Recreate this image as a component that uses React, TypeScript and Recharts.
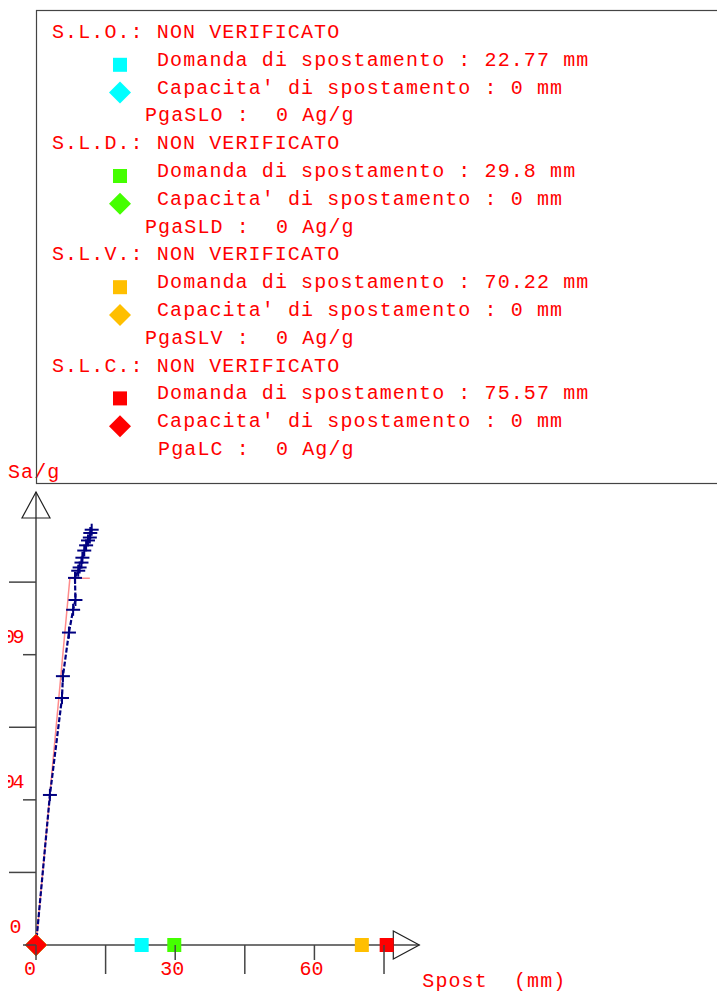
import { ScatterChart, Scatter, XAxis, YAxis, ReferenceDot } from "recharts";

const FONT = '"Liberation Mono", "DejaVu Sans Mono", monospace';
const RED = "#ff0000";
const AXIS = "#444444";
const NAVY = "#000080";

// curva di capacita': spostamento (mm) / Sa/g
const curveX = [0, 3.0, 5.6, 5.8, 7.1, 8.0, 8.5, 8.4, 9.1, 9.4, 9.8, 10.0, 10.4, 10.8, 11.2, 11.6, 11.7, 12.0];
const curveY = [0, 0.0461, 0.0759, 0.0826, 0.096, 0.103, 0.106, 0.1128, 0.115, 0.116, 0.1175, 0.119, 0.1212, 0.1228, 0.1243, 0.1252, 0.1266, 0.1276];

// bilineare equivalente
const bilinX = [0, 7.3, 11.6];
const bilinY = [0, 0.1127, 0.1127];

const stati = ["S.L.O.", "S.L.D.", "S.L.V.", "S.L.C."];
const pgaNomi = ["PgaSLO", "PgaSLD", "PgaSLV", "PgaLC"];
const domanda = [22.77, 29.8, 70.22, 75.57];
const capacita = [0, 0, 0, 0];
const pga = [0, 0, 0, 0];
const colori = ["#00ffff", "#44ff00", "#ffbf00", "#ff0000"];

const xTicks = [0, 15, 30, 45, 60, 75];
const xTickLabels = ["0", "", "30", "", "60", ""];
const yTicks = [0, 0.0223, 0.0446, 0.0669, 0.0892, 0.1115];
const yTickLabels = ["0", "", "0.04", "", "0.09", ""];
const xMax = 77;
const yMax = 0.1312;

const curve = curveX.map((x, i) => ({ x, y: curveY[i] }));
const bilin = bilinX.map((x, i) => ({ x, y: bilinY[i] }));

const txt = { fontFamily: FONT, fontSize: 20, letterSpacing: 1.1, fill: RED, whiteSpace: "pre" as const };
const tickTxt = { fontFamily: FONT, fontSize: 20, fill: RED };

function XTick(p: any) {
  const i = xTicks.indexOf(p.payload.value);
  const long = i % 2 === 1;
  return (
    <g>
      <line x1={p.x} y1={945} x2={p.x} y2={945 + (long ? 29 : 15)} stroke={AXIS} strokeWidth={1.5} />
      {xTickLabels[i] && (
        <text x={p.x - (i === 0 ? 6 : 3)} y={975} textAnchor="middle" style={tickTxt}>
          {xTickLabels[i]}
        </text>
      )}
    </g>
  );
}

function YTick(p: any) {
  const i = yTicks.indexOf(p.payload.value);
  const long = i % 2 === 1;
  return (
    <g>
      <line x1={36} y1={p.y} x2={36 - (long ? 27 : 13)} y2={p.y} stroke={AXIS} strokeWidth={1.5} />
      {yTickLabels[i] && (
        <text x={i === 0 ? 19 : 22} y={p.y - 12} textAnchor="end" style={{ ...tickTxt, letterSpacing: -2.5 }}>
          {yTickLabels[i]}
        </text>
      )}
    </g>
  );
}

const Piu = (p: any) =>
  p.payload && p.payload.x === 0 ? <g /> : (
    <g stroke={NAVY} strokeWidth={2}>
      <line x1={p.cx - 7} y1={p.cy} x2={p.cx + 7} y2={p.cy} />
      <line x1={p.cx} y1={p.cy - 6} x2={p.cx} y2={p.cy + 6} />
    </g>
  );

const quadrato = (c: string) => (p: any) => <rect x={p.cx - 7} y={p.cy - 7} width={14} height={14} fill={c} />;
const rombo = (c: string) => (p: any) => (
  <polygon points={`${p.cx - 11},${p.cy} ${p.cx},${p.cy - 11} ${p.cx + 11},${p.cy} ${p.cx},${p.cy + 11}`} fill={c} />
);

const FrecciaY = (p: any) => (
  <g>
    <line x1={p.cx} y1={p.cy} x2={p.cx} y2={p.cy - 26} stroke={AXIS} strokeWidth={1.5} />
    <polygon points={`${p.cx - 14},${p.cy} ${p.cx + 14},${p.cy} ${p.cx},${p.cy - 26}`} fill="none" stroke="#222" strokeWidth={1.2} />
    <text x={p.cx - 28} y={p.cy - 40} style={txt}>Sa/g</text>
  </g>
);

const FrecciaX = (p: any) => (
  <g>
    <line x1={p.cx} y1={p.cy} x2={p.cx + 26} y2={p.cy} stroke={AXIS} strokeWidth={1.5} />
    <polygon points={`${p.cx},${p.cy - 14} ${p.cx},${p.cy + 14} ${p.cx + 26},${p.cy}`} fill="none" stroke="#222" strokeWidth={1.2} />
    <text x={p.cx + 29} y={p.cy + 42} style={txt}>Spost  (mm)</text>
  </g>
);

function Riquadro() {
  const righe: { t: string; x: number; icon?: string; c: string }[] = [];
  stati.forEach((s, i) => {
    righe.push({ t: `${s}: NON VERIFICATO`, x: 52, c: colori[i] });
    righe.push({ t: `Domanda di spostamento : ${domanda[i]} mm`, x: 157, icon: "q", c: colori[i] });
    righe.push({ t: `Capacita' di spostamento : ${capacita[i]} mm`, x: 157, icon: "r", c: colori[i] });
    const nome = pgaNomi[i].padStart(6, " ");
    righe.push({ t: `${nome} :  ${pga[i]} Ag/g`, x: 145, c: colori[i] });
  });
  return (
    <svg width={725} height={490} style={{ position: "absolute", left: 0, top: 0, pointerEvents: "none" }}>
      <rect x={36.5} y={10.5} width={720} height={473} fill="none" stroke="#444" strokeWidth={1.2} />
      {righe.map((r, k) => {
        const yb = 38 + k * 27.8;
        return (
          <g key={k}>
            {r.icon === "q" && <rect x={113} y={yb - 8} width={14} height={14} fill={r.c} />}
            {r.icon === "r" && (
              <polygon points={`109,${yb - 1} 120,${yb - 12} 131,${yb - 1} 120,${yb + 10}`} fill={r.c} />
            )}
            <text x={r.x} y={yb} style={txt}>{r.t}</text>
          </g>
        );
      })}
    </svg>
  );
}

export default function App() {
  return (
    <div style={{ position: "relative", width: 725, height: 992, margin: "-8px 0 0 -8px", background: "#fff", overflow: "hidden" }}>
      <ScatterChart width={725} height={992} margin={{ top: 518, right: 331.7, bottom: 46, left: 35 }}>
        <XAxis
          type="number"
          dataKey="x"
          domain={[0, xMax]}
          ticks={xTicks}
          height={1}
          tickSize={0}
          tickMargin={0}
          tick={(p: any) => <XTick {...p} />}
          axisLine={{ stroke: AXIS, strokeWidth: 1.5 }}
        />
        <YAxis
          type="number"
          dataKey="y"
          domain={[0, yMax]}
          ticks={yTicks}
          width={1}
          tickSize={0}
          tickMargin={0}
          tick={(p: any) => <YTick {...p} />}
          axisLine={{ stroke: AXIS, strokeWidth: 1.5 }}
        />
        <ReferenceDot x={0} y={yMax} r={0} ifOverflow="visible" shape={FrecciaY} />
        <ReferenceDot x={xMax} y={0} r={0} ifOverflow="visible" shape={FrecciaX} />
        <Scatter
          data={bilin}
          fill="#ff8c8c"
          line={{ stroke: "#ff8c8c", strokeWidth: 1.5 }}
          shape={() => <g />}
          isAnimationActive={false}
        />
        <Scatter
          data={curve}
          fill={NAVY}
          line={{ stroke: NAVY, strokeWidth: 2.2, strokeDasharray: "5 2" }}
          shape={Piu}
          isAnimationActive={false}
        />
        {stati.map((s, i) => (
          <Scatter
            key={"d" + s}
            data={[{ x: domanda[i], y: 0 }]}
            fill={colori[i]}
            shape={quadrato(colori[i])}
            isAnimationActive={false}
          />
        ))}
        {stati.map((s, i) => (
          <Scatter
            key={"c" + s}
            data={[{ x: capacita[i], y: 0 }]}
            fill={colori[i]}
            shape={rombo(colori[i])}
            isAnimationActive={false}
          />
        ))}
      </ScatterChart>
      <Riquadro />
    </div>
  );
}
